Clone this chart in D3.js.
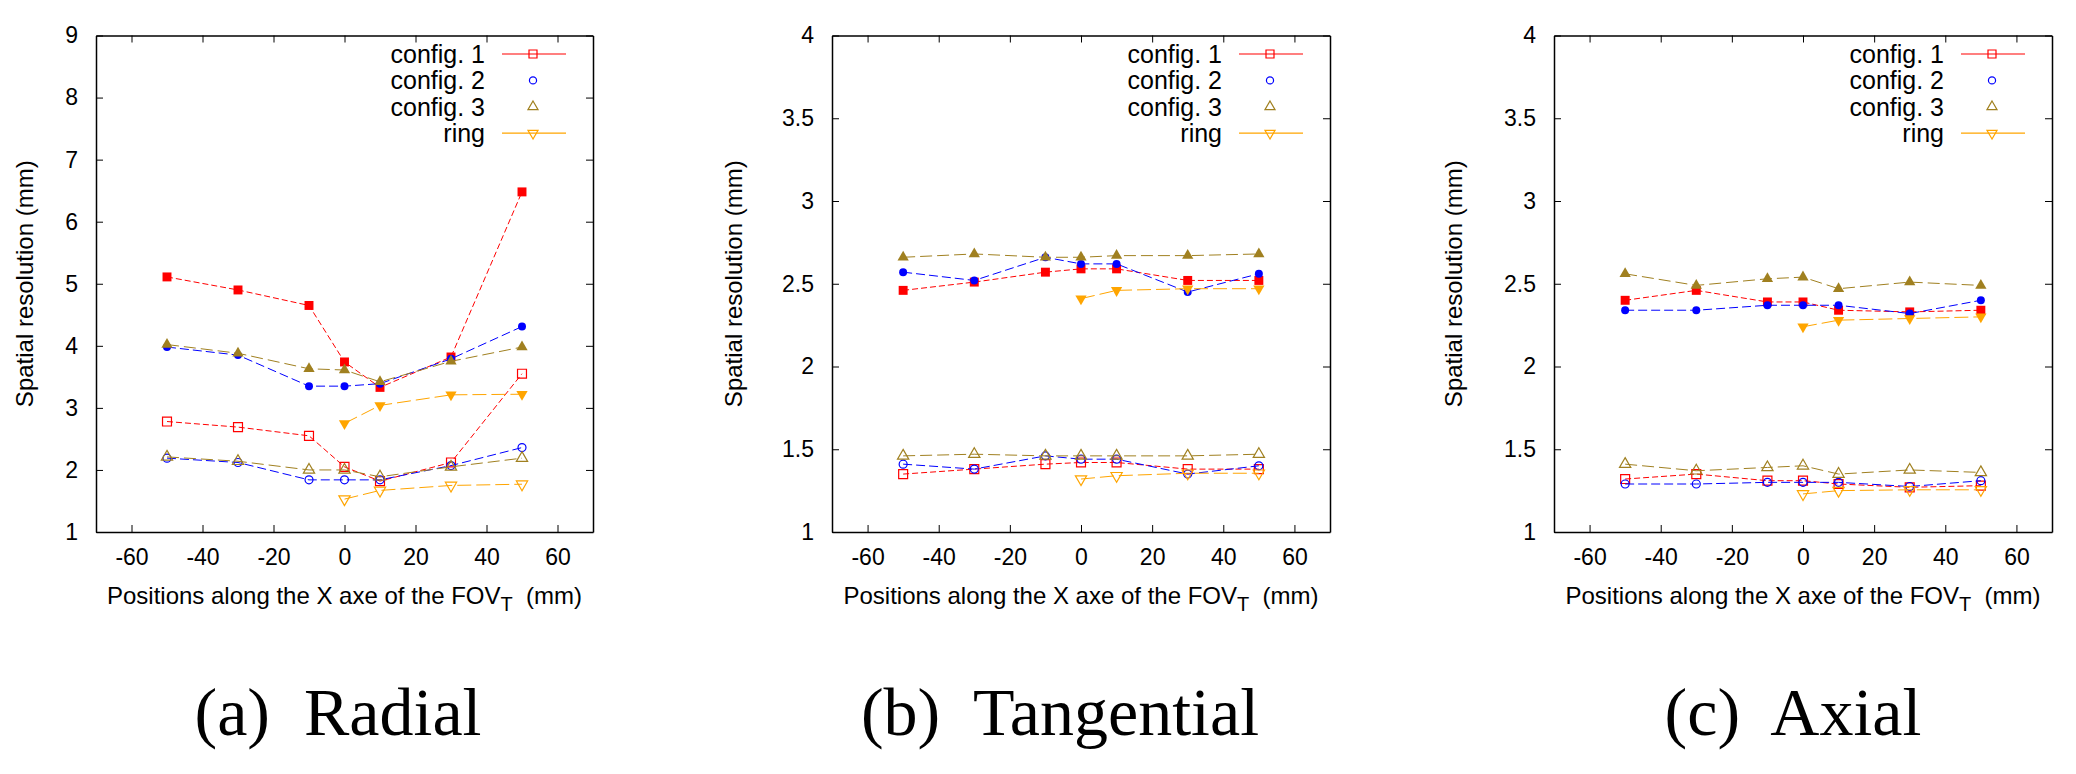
<!DOCTYPE html>
<html>
<head>
<meta charset="utf-8">
<script src="https://cdn.jsdelivr.net/npm/d3@7"></script>
<style>
  body { margin: 0; background: #fff; }
  svg { display: block; }
  text { font-family: "Liberation Sans", Arial, sans-serif; fill: #000; }
  .caption { font-family: "Liberation Serif", "Times New Roman", serif; white-space: pre; }
</style>
</head>
<body>
<svg id="chart" width="2076" height="774"></svg>
<script>
// x positions (mm) and tick labels
const xTicks = [-60, -40, -20, 0, 20, 40, 60];
const positions = [-50, -30, -10, 0, 10, 30, 50];
const ringPositions = [0, 10, 30, 50];
const seriesNames = ["config. 1", "config. 2", "config. 3", "ring"];
const radialYTicks = [1, 2, 3, 4, 5, 6, 7, 8, 9];
const otherYTicks = [1, 1.5, 2, 2.5, 3, 3.5, 4];

// (a) Radial
const radialConfig1High = [5.11, 4.90, 4.65, 3.74, 3.33, 3.82, 6.48];
const radialConfig1Low  = [2.78, 2.69, 2.55, 2.05, 1.82, 2.12, 3.55];
const radialConfig2High = [3.98, 3.85, 3.35, 3.35, 3.39, 3.79, 4.31];
const radialConfig2Low  = [2.19, 2.12, 1.84, 1.84, 1.84, 2.07, 2.36];
const radialConfig3High = [4.02, 3.88, 3.63, 3.61, 3.42, 3.75, 3.98];
const radialConfig3Low  = [2.21, 2.14, 2.00, 2.00, 1.89, 2.05, 2.19];
const radialRingHigh = [2.75, 3.04, 3.21, 3.22];
const radialRingLow  = [1.53, 1.67, 1.75, 1.77];

// (b) Tangential
const tangConfig1High = [2.46, 2.51, 2.57, 2.59, 2.59, 2.52, 2.52];
const tangConfig1Low  = [1.35, 1.38, 1.41, 1.42, 1.42, 1.38, 1.38];
const tangConfig2High = [2.57, 2.52, 2.66, 2.62, 2.62, 2.45, 2.56];
const tangConfig2Low  = [1.41, 1.38, 1.46, 1.44, 1.44, 1.35, 1.40];
const tangConfig3High = [2.66, 2.68, 2.66, 2.66, 2.67, 2.67, 2.68];
const tangConfig3Low  = [1.46, 1.47, 1.46, 1.46, 1.46, 1.46, 1.47];
const tangRingHigh = [2.41, 2.46, 2.47, 2.47];
const tangRingLow  = [1.32, 1.34, 1.355, 1.355];

// (c) Axial
const axialConfig1High = [2.40, 2.46, 2.39, 2.39, 2.34, 2.33, 2.34];
const axialConfig1Low  = [1.32, 1.35, 1.31, 1.31, 1.29, 1.27, 1.28];
const axialConfig2High = [2.34, 2.34, 2.37, 2.37, 2.37, 2.32, 2.40];
const axialConfig2Low  = [1.29, 1.29, 1.30, 1.30, 1.30, 1.275, 1.31];
const axialConfig3High = [2.56, 2.49, 2.53, 2.54, 2.47, 2.51, 2.49];
const axialConfig3Low  = [1.41, 1.37, 1.39, 1.40, 1.35, 1.375, 1.36];
const axialRingHigh = [2.24, 2.28, 2.29, 2.30];
const axialRingLow  = [1.23, 1.25, 1.255, 1.255];

const colors = ["#ff0000", "#0000ff", "#a08020", "#ffa500"];
const dashes = ["6,3", "9,4", "12,5", "14,5"];
const symbols = [d3.symbolSquare, d3.symbolCircle, d3.symbolTriangle, d3.symbolTriangle];
const symbolSizes = [80, 50, 55, 55];
const symbolRotate = [0, 0, 0, 180];

const panels = [
  { left: 96, right: 593, yDomain: [1, 9], yTicks: radialYTicks, ylabelX: 25,
    caption: "(a)  Radial", captionX: 338,
    high: [radialConfig1High, radialConfig2High, radialConfig3High, radialRingHigh],
    low: [radialConfig1Low, radialConfig2Low, radialConfig3Low, radialRingLow] },
  { left: 832, right: 1330, yDomain: [1, 4], yTicks: otherYTicks, ylabelX: 734,
    caption: "(b)  Tangential", captionX: 1060,
    high: [tangConfig1High, tangConfig2High, tangConfig3High, tangRingHigh],
    low: [tangConfig1Low, tangConfig2Low, tangConfig3Low, tangRingLow] },
  { left: 1554, right: 2052, yDomain: [1, 4], yTicks: otherYTicks, ylabelX: 1454,
    caption: "(c)  Axial", captionX: 1793,
    high: [axialConfig1High, axialConfig2High, axialConfig3High, axialRingHigh],
    low: [axialConfig1Low, axialConfig2Low, axialConfig3Low, axialRingLow] }
];

const plotTop = 35.5, plotBottom = 532;
const svg = d3.select("#chart");

function drawPanel(p) {
  const x = d3.scaleLinear().domain([-70, 70]).range([p.left, p.right]);
  const y = d3.scaleLinear().domain(p.yDomain).range([plotBottom, plotTop]);
  const g = svg.append("g");

  // axes with inward ticks on all four sides
  const styleAxis = sel => {
    sel.select(".domain").attr("stroke-width", 1.5);
    sel.selectAll(".tick line").attr("stroke-width", 1);
    sel.selectAll("text").attr("font-size", 23).attr("font-family", "Liberation Sans, Arial, sans-serif");
  };
  g.append("g").attr("transform", `translate(0,${plotBottom})`)
    .call(d3.axisBottom(x).tickValues(xTicks).tickSizeInner(-7).tickSizeOuter(0).tickPadding(17)
      .tickFormat(d => String(d)))
    .call(styleAxis);
  g.append("g").attr("transform", `translate(0,${plotTop})`)
    .call(d3.axisTop(x).tickValues(xTicks).tickSizeInner(-7).tickSizeOuter(0).tickFormat(""))
    .call(styleAxis);
  g.append("g").attr("transform", `translate(${p.left},0)`)
    .call(d3.axisLeft(y).tickValues(p.yTicks).tickSizeInner(-7).tickSizeOuter(0).tickPadding(18)
      .tickFormat(d => String(d)))
    .call(styleAxis);
  g.append("g").attr("transform", `translate(${p.right},0)`)
    .call(d3.axisRight(y).tickValues(p.yTicks).tickSizeInner(-7).tickSizeOuter(0).tickFormat(""))
    .call(styleAxis);

  // axis titles
  g.append("text")
    .attr("transform", `translate(${p.ylabelX},${(plotTop + plotBottom) / 2}) rotate(-90)`)
    .attr("text-anchor", "middle")
    .attr("dy", "0.35em")
    .attr("font-size", 24)
    .text("Spatial resolution (mm)");

  const xt = g.append("text")
    .attr("x", (p.left + p.right) / 2)
    .attr("y", 604)
    .attr("text-anchor", "middle")
    .attr("font-size", 24)
    .style("white-space", "pre");
  xt.append("tspan").text("Positions along the X axe of the FOV");
  xt.append("tspan").attr("font-size", 20).attr("dy", 7).text("T");
  xt.append("tspan").attr("dy", -7).text("  (mm)");

  // series
  const line = d3.line().x(d => x(d[0])).y(d => y(d[1]));
  seriesNames.forEach((name, i) => {
    const xs = i === 3 ? ringPositions : positions;
    [p.low[i], p.high[i]].forEach((vals, k) => {
      const pts = xs.map((v, j) => [v, vals[j]]);
      g.append("path")
        .datum(pts)
        .attr("d", line)
        .attr("fill", "none")
        .attr("stroke", colors[i])
        .attr("stroke-width", 1)
        .attr("stroke-dasharray", dashes[i]);
      g.selectAll(null)
        .data(pts)
        .join("path")
        .attr("d", d3.symbol(symbols[i], symbolSizes[i]))
        .attr("transform", d => `translate(${x(d[0])},${y(d[1])}) rotate(${symbolRotate[i]})`)
        .attr("fill", k === 1 ? colors[i] : "none")
        .attr("stroke", colors[i])
        .attr("stroke-width", k === 1 ? 0 : 1.2);
    });
  });

  // legend
  const legend = g.append("g")
    .selectAll("g")
    .data(seriesNames)
    .join("g")
    .attr("transform", (d, i) => `translate(${p.right},${plotTop + 18.5 + i * 26.4})`);
  legend.append("text")
    .attr("x", -108)
    .attr("dy", "0.35em")
    .attr("text-anchor", "end")
    .attr("font-size", 25)
    .text(d => d);
  legend.filter((d, i) => i === 0 || i === 3)
    .append("line")
    .attr("x1", -91).attr("x2", -27)
    .attr("stroke", d => colors[seriesNames.indexOf(d)])
    .attr("stroke-width", 1.2);
  legend.append("path")
    .attr("d", (d, i) => d3.symbol(symbols[i], symbolSizes[i] * 0.8)())
    .attr("transform", (d, i) => `translate(-60,0) rotate(${symbolRotate[i]})`)
    .attr("fill", "none")
    .attr("stroke", (d, i) => colors[i])
    .attr("stroke-width", 1.2);

  // caption
  svg.append("text")
    .attr("class", "caption")
    .attr("x", p.captionX)
    .attr("y", 735)
    .attr("text-anchor", "middle")
    .attr("font-size", 68)
    .text(p.caption);
}

panels.forEach(drawPanel);
</script>
</body>
</html>
